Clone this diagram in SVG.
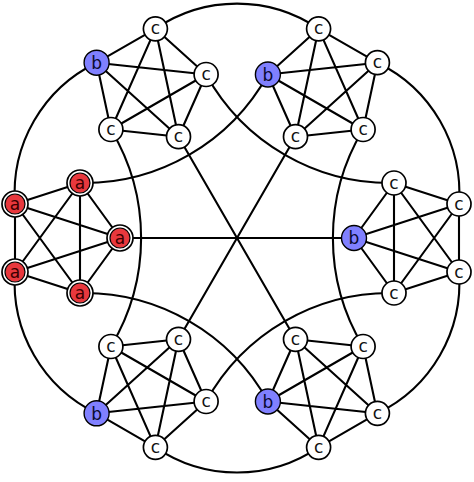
<svg xmlns="http://www.w3.org/2000/svg" width="474" height="482" viewBox="0 0 474 482">
<style>
.e{fill:none;stroke:#000;stroke-width:2.1}
.c circle{fill:#fff;stroke:#000;stroke-width:1.7}
.b circle{fill:#8080ff;stroke:#000;stroke-width:1.4}
.a .o{fill:#fff;stroke:#000;stroke-width:1.7}
.a .i{fill:#e8383d;stroke:#000;stroke-width:1.2}
text{font-family:"DejaVu Sans",sans-serif;font-size:17px;text-anchor:middle}
.c text{fill:#111}
.b text{fill:#0a0a30}
.a text{fill:#3a0000}
</style>
<rect width="474" height="482" fill="#fff"/>
<g id="connectors" class="e">
<path d="M15,204L80,183M15,204L120,238M15,204L15,272M15,204L80,293M80,183L120,238M80,183L15,272M80,183L80,293M120,238L15,272M120,238L80,293M15,272L80,293"/>
<path d="M377.4,62.7L363.1,129.5M377.4,62.7L295.5,136.7M377.4,62.7L318.6,28.8M377.4,62.7L267.9,74.5M363.1,129.5L295.5,136.7M363.1,129.5L318.6,28.8M363.1,129.5L267.9,74.5M295.5,136.7L318.6,28.8M295.5,136.7L267.9,74.5M318.6,28.8L267.9,74.5"/>
<path d="M318.6,447.3L267.9,401.5M318.6,447.3L295.5,339.3M318.6,447.3L377.4,413.3M318.6,447.3L363.1,346.5M267.9,401.5L295.5,339.3M267.9,401.5L377.4,413.3M267.9,401.5L363.1,346.5M295.5,339.3L377.4,413.3M295.5,339.3L363.1,346.5M377.4,413.3L363.1,346.5"/>
<path d="M459,204L394,183M459,204L354,238M459,204L459,272M459,204L394,293M394,183L354,238M394,183L459,272M394,183L394,293M354,238L459,272M354,238L394,293M459,272L394,293"/>
<path d="M96.6,62.7L110.9,129.5M96.6,62.7L178.5,136.7M96.6,62.7L155.4,28.8M96.6,62.7L206.1,74.5M110.9,129.5L178.5,136.7M110.9,129.5L155.4,28.8M110.9,129.5L206.1,74.5M178.5,136.7L155.4,28.8M178.5,136.7L206.1,74.5M155.4,28.8L206.1,74.5"/>
<path d="M155.4,447.3L206.1,401.5M155.4,447.3L178.5,339.3M155.4,447.3L96.6,413.3M155.4,447.3L110.9,346.5M206.1,401.5L178.5,339.3M206.1,401.5L96.6,413.3M206.1,401.5L110.9,346.5M178.5,339.3L96.6,413.3M178.5,339.3L110.9,346.5M96.6,413.3L110.9,346.5"/>
<path d="M155.4,28.8A145,145 0 0 1 318.6,28.8"/>
<path d="M377.4,62.7A145,145 0 0 1 459,204"/>
<path d="M459,272A145,145 0 0 1 377.4,413.3"/>
<path d="M318.6,447.3A145,145 0 0 1 155.4,447.3"/>
<path d="M96.6,413.3A145,145 0 0 1 15,272"/>
<path d="M15,204A145,145 0 0 1 96.6,62.7"/>
<path d="M80,183A210,210 0 0 0 267.9,74.5"/>
<path d="M363.1,129.5A210,210 0 0 0 363.1,346.5"/>
<path d="M267.9,401.5A210,210 0 0 0 80,293"/>
<path d="M110.9,129.5A210,210 0 0 1 110.9,346.5"/>
<path d="M206.1,74.5A210,210 0 0 0 394,183"/>
<path d="M206.1,401.5A210,210 0 0 1 394,293"/>
<path d="M120,238L354,238M178.5,136.7L295.5,339.3M295.5,136.7L178.5,339.3"/>
</g>
<g id="a1" class="a"><circle class="o" cx="15" cy="204" r="13"/><circle class="i" cx="15" cy="204" r="10"/><text x="15" y="209.5">a</text></g>
<g id="a2" class="a"><circle class="o" cx="80" cy="183" r="13"/><circle class="i" cx="80" cy="183" r="10"/><text x="80" y="188.5">a</text></g>
<g id="a3" class="a"><circle class="o" cx="120" cy="238" r="13"/><circle class="i" cx="120" cy="238" r="10"/><text x="120" y="243.5">a</text></g>
<g id="a4" class="a"><circle class="o" cx="15" cy="272" r="13"/><circle class="i" cx="15" cy="272" r="10"/><text x="15" y="277.5">a</text></g>
<g id="a5" class="a"><circle class="o" cx="80" cy="293" r="13"/><circle class="i" cx="80" cy="293" r="10"/><text x="80" y="298.5">a</text></g>
<g id="tr1" class="c"><circle cx="377.4" cy="62.7" r="12"/><text x="377.4" y="68.2">c</text></g>
<g id="tr2" class="c"><circle cx="363.1" cy="129.5" r="12"/><text x="363.1" y="135">c</text></g>
<g id="tr3" class="c"><circle cx="295.5" cy="136.7" r="12"/><text x="295.5" y="142.2">c</text></g>
<g id="tr4" class="c"><circle cx="318.6" cy="28.8" r="12"/><text x="318.6" y="34.3">c</text></g>
<g id="tr5" class="b"><circle cx="267.9" cy="74.5" r="12.5"/><text x="267.9" y="80.7">b</text></g>
<g id="br1" class="c"><circle cx="318.6" cy="447.3" r="12"/><text x="318.6" y="452.8">c</text></g>
<g id="br2" class="b"><circle cx="267.9" cy="401.5" r="12.5"/><text x="267.9" y="407.7">b</text></g>
<g id="br3" class="c"><circle cx="295.5" cy="339.3" r="12"/><text x="295.5" y="344.8">c</text></g>
<g id="br4" class="c"><circle cx="377.4" cy="413.3" r="12"/><text x="377.4" y="418.8">c</text></g>
<g id="br5" class="c"><circle cx="363.1" cy="346.5" r="12"/><text x="363.1" y="352">c</text></g>
<g id="r1" class="c"><circle cx="459" cy="204" r="12"/><text x="459" y="209.5">c</text></g>
<g id="r2" class="c"><circle cx="394" cy="183" r="12"/><text x="394" y="188.5">c</text></g>
<g id="r3" class="b"><circle cx="354" cy="238" r="12.5"/><text x="354" y="244.2">b</text></g>
<g id="r4" class="c"><circle cx="459" cy="272" r="12"/><text x="459" y="277.5">c</text></g>
<g id="r5" class="c"><circle cx="394" cy="293" r="12"/><text x="394" y="298.5">c</text></g>
<g id="tl1" class="b"><circle cx="96.6" cy="62.7" r="12.5"/><text x="96.6" y="68.9">b</text></g>
<g id="tl2" class="c"><circle cx="110.9" cy="129.5" r="12"/><text x="110.9" y="135">c</text></g>
<g id="tl3" class="c"><circle cx="178.5" cy="136.7" r="12"/><text x="178.5" y="142.2">c</text></g>
<g id="tl4" class="c"><circle cx="155.4" cy="28.8" r="12"/><text x="155.4" y="34.3">c</text></g>
<g id="tl5" class="c"><circle cx="206.1" cy="74.5" r="12"/><text x="206.1" y="80">c</text></g>
<g id="bl1" class="c"><circle cx="155.4" cy="447.3" r="12"/><text x="155.4" y="452.8">c</text></g>
<g id="bl2" class="c"><circle cx="206.1" cy="401.5" r="12"/><text x="206.1" y="407">c</text></g>
<g id="bl3" class="c"><circle cx="178.5" cy="339.3" r="12"/><text x="178.5" y="344.8">c</text></g>
<g id="bl4" class="b"><circle cx="96.6" cy="413.3" r="12.5"/><text x="96.6" y="419.5">b</text></g>
<g id="bl5" class="c"><circle cx="110.9" cy="346.5" r="12"/><text x="110.9" y="352">c</text></g>
</svg>
